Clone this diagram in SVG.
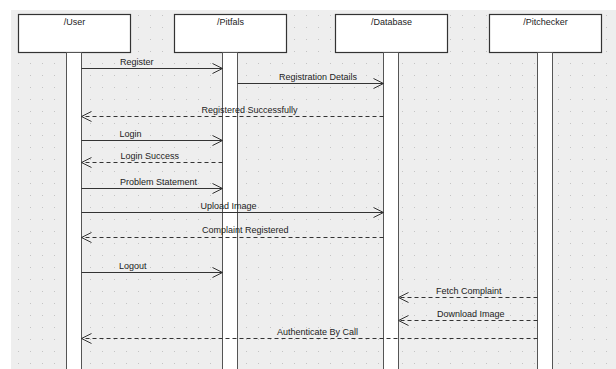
<svg xmlns="http://www.w3.org/2000/svg" width="616" height="369" viewBox="0 0 616 369">
<defs>
<pattern id="grid" patternUnits="userSpaceOnUse" x="0" y="0" width="12" height="12">
<rect x="6" y="3" width="1" height="1" fill="#c4c4c4"/>
</pattern>
<marker id="open" viewBox="0 0 12 12" refX="11" refY="6" markerWidth="12" markerHeight="12" markerUnits="userSpaceOnUse" orient="auto">
<path d="M1,1 L11,6 L1,11" fill="none" stroke="#333" stroke-width="1"/>
</marker>
<style>
.head{fill:#fff;stroke:#333;stroke-width:1.2}
.bar{fill:#fff;stroke:#555;stroke-width:1}
.t{font-family:"Liberation Sans",Arial,sans-serif;font-size:9px;fill:#222}
.hc{text-anchor:middle}
.msg{stroke:#333;stroke-width:1;fill:none;marker-end:url(#open)}
.ret{stroke:#333;stroke-width:1;fill:none;stroke-dasharray:4,3;marker-end:url(#open)}
</style>
</defs>
<rect x="0" y="0" width="616" height="369" fill="#fff"/>
<rect x="11" y="10" width="605" height="359" fill="#eeeeee"/>
<rect x="11" y="10" width="605" height="359" fill="url(#grid)"/>

<g id="user">
<rect class="head" x="18.5" y="14.5" width="112" height="38"/>
<rect class="bar" x="66.5" y="52.5" width="15" height="320"/>
<text class="t hc" x="74.5" y="25">/User</text>
</g>
<g id="pitfals">
<rect class="head" x="174.5" y="14.5" width="112" height="38"/>
<rect class="bar" x="222.5" y="52.5" width="15" height="320"/>
<text class="t hc" x="230.5" y="25">/Pitfals</text>
</g>
<g id="database">
<rect class="head" x="335.5" y="14.5" width="112" height="38"/>
<rect class="bar" x="383.5" y="52.5" width="15" height="320"/>
<text class="t hc" x="391.5" y="25">/Database</text>
</g>
<g id="pitchecker">
<rect class="head" x="489.5" y="14.5" width="112" height="38"/>
<rect class="bar" x="537.5" y="52.5" width="15" height="320"/>
<text class="t hc" x="545.5" y="25">/Pitchecker</text>
</g>

<g id="connectors">
<line class="msg" x1="81.5" y1="68.5" x2="222.5" y2="68.5"/>
<line class="msg" x1="237.5" y1="83.5" x2="383.5" y2="83.5"/>
<line class="ret" x1="383.5" y1="116.5" x2="81.5" y2="116.5"/>
<line class="msg" x1="81.5" y1="140.5" x2="222.5" y2="140.5"/>
<line class="ret" x1="222.5" y1="162.5" x2="81.5" y2="162.5"/>
<line class="msg" x1="81.5" y1="188.5" x2="222.5" y2="188.5"/>
<line class="msg" x1="81.5" y1="212.5" x2="383.5" y2="212.5"/>
<line class="ret" x1="383.5" y1="237.5" x2="81.5" y2="237.5"/>
<line class="msg" x1="81.5" y1="272.5" x2="222.5" y2="272.5"/>
<line class="ret" x1="537.5" y1="297.5" x2="398.5" y2="297.5"/>
<line class="ret" x1="537.5" y1="320.5" x2="398.5" y2="320.5"/>
<line class="ret" x1="537.5" y1="338.5" x2="81.5" y2="338.5"/>
<text class="t" x="120" y="64.5">Register</text>
<text class="t" x="279" y="79.5">Registration Details</text>
<text class="t" x="201.5" y="112.5">Registered Successfully</text>
<text class="t" x="119.5" y="136.5">Login</text>
<text class="t" x="120.5" y="158.5">Login Success</text>
<text class="t" x="120" y="184.5">Problem Statement</text>
<text class="t" x="200.5" y="208.5">Upload Image</text>
<text class="t" x="202" y="233">Complaint Registered</text>
<text class="t" x="119" y="268.5">Logout</text>
<text class="t" x="436" y="293.5">Fetch Complaint</text>
<text class="t" x="437" y="316.5">Download Image</text>
<text class="t" x="277" y="334.5">Authenticate By Call</text>
</g>
</svg>
